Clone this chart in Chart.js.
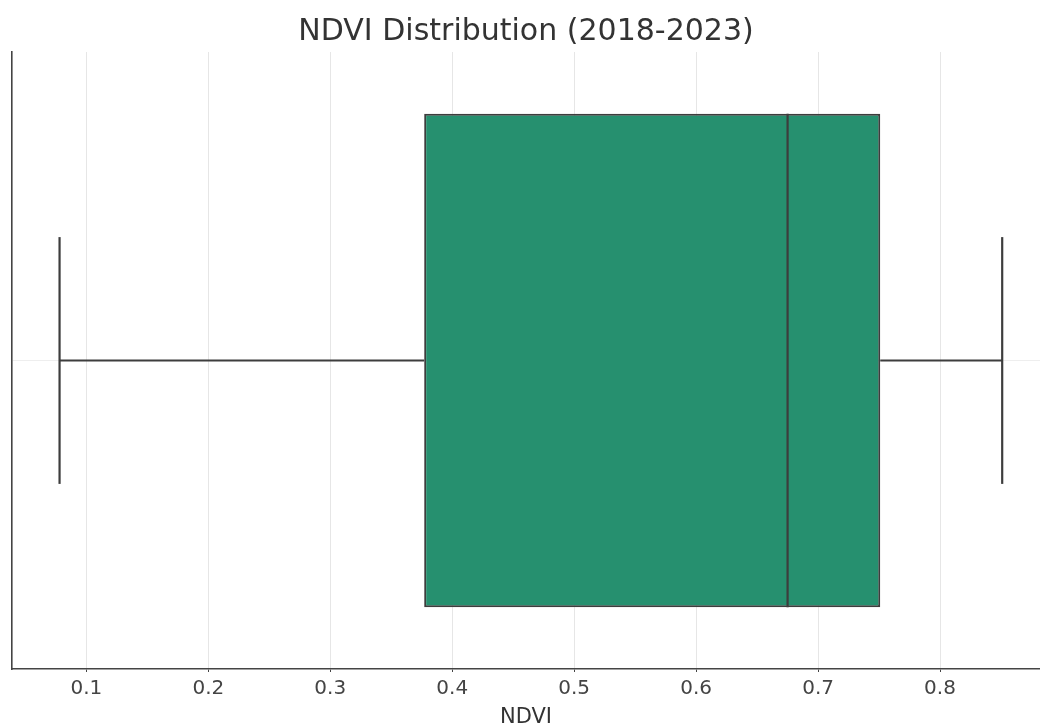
<!DOCTYPE html>
<html>
<head>
<meta charset="utf-8">
<script src="https://cdn.jsdelivr.net/npm/chart.js@4.4.0/dist/chart.umd.min.js"></script>
<style>
  html, body { margin: 0; padding: 0; background: #fff; }
  #wrap { width: 1040px; height: 725px; }
</style>
</head>
<body>
<div id="wrap"><canvas id="grafico" width="1040" height="725"></canvas></div>
<script>
// Valores (NDVI 2018-2023)
const categorias = ['NDVI'];
const minimo = [0.078];
const q1 = [0.377];
const mediana = [0.675];
const q3 = [0.751];
const maximo = [0.851];
const ticksX = [0.1, 0.2, 0.3, 0.4, 0.5, 0.6, 0.7, 0.8];
const rangoX = [0.039, 0.882];

const colorCaja = '#26906f';
const colorLinea = '#3d3d3d';

// Lineas del boxplot sobre un eje lineal oculto (-0.5 .. 0.5)
function linea(puntos, ancho) {
    return {
        type: 'line',
        data: puntos,
        yAxisID: 'y2',
        xAxisID: 'x',
        borderColor: colorLinea,
        borderWidth: ancho,
        pointRadius: 0,
        fill: false,
        tension: 0,
        order: 1
    };
}

const i = 0;
const datasets = [
    linea([{ x: minimo[i], y: 0 }, { x: q1[i], y: 0 }], 2.2),
    linea([{ x: q3[i], y: 0 }, { x: maximo[i], y: 0 }], 2.2),
    linea([{ x: minimo[i], y: -0.2 }, { x: minimo[i], y: 0.2 }], 2.2),
    linea([{ x: maximo[i], y: -0.2 }, { x: maximo[i], y: 0.2 }], 2.2),
    linea([{ x: mediana[i], y: -0.4 }, { x: mediana[i], y: 0.4 }], 2.2),
    {
        type: 'bar',
        indexAxis: 'y',
        data: [[q1[i], q3[i]]],
        backgroundColor: colorCaja,
        borderColor: colorLinea,
        borderWidth: 2,
        borderSkipped: false,
        barPercentage: 0.8,
        categoryPercentage: 1.0,
        xAxisID: 'x',
        yAxisID: 'y',
        order: 2
    }
];

Chart.defaults.font.family = "'DejaVu Sans', sans-serif";
Chart.defaults.color = '#444';

new Chart(document.getElementById('grafico').getContext('2d'), {
    type: 'bar',
    data: { labels: categorias, datasets: datasets },
    options: {
        responsive: false,
        animation: false,
        layout: { padding: { left: 12, right: 0, top: 0, bottom: -3 } },
        plugins: {
            legend: { display: false },
            tooltip: { enabled: false },
            title: {
                display: true,
                text: 'NDVI Distribution (2018-2023)',
                color: '#333',
                font: { size: 30, weight: 'normal' },
                padding: { top: 14, bottom: 2 }
            }
        },
        scales: {
            x: {
                type: 'linear',
                offset: false,
                min: rangoX[0],
                max: rangoX[1],
                afterBuildTicks: function (scale) {
                    scale.ticks = ticksX.map(v => ({ value: v }));
                },
                ticks: {
                    font: { size: 20, lineHeight: 1.1 },
                    color: '#444',
                    padding: 6,
                    callback: v => v.toFixed(1)
                },
                grid: {
                    offset: false,
                    color: '#e6e6e6',
                    lineWidth: 1,
                    tickLength: 3,
                    tickColor: '#444'
                },
                border: { color: '#444', width: 1.6 },
                title: {
                    display: true,
                    text: 'NDVI',
                    color: '#333',
                    font: { size: 21, lineHeight: 1 },
                    padding: { top: 1, bottom: 0 }
                }
            },
            y: {
                type: 'category',
                offset: true,
                ticks: { display: false },
                grid: {
                    offset: false,
                    color: '#eeeeee',
                    drawTicks: false
                },
                border: { color: '#444', width: 1.6 }
            },
            y2: {
                type: 'linear',
                display: false,
                min: -0.5,
                max: 0.5
            }
        }
    }
});
</script>
</body>
</html>
